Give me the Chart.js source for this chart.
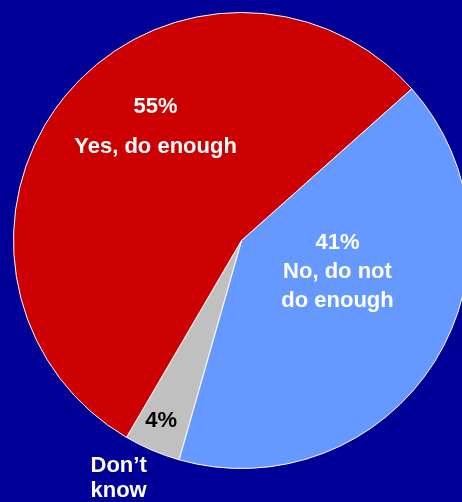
<!DOCTYPE html>
<html>
<head>
<meta charset="utf-8">
<script src="https://cdn.jsdelivr.net/npm/chart.js@4/dist/chart.umd.min.js"></script>
<style>
    html, body {
        margin: 0;
        padding: 0;
        width: 462px;
        height: 502px;
        overflow: hidden;
        background: #000099;
    }
    #chart {
        position: absolute;
        left: 0;
        top: 0;
    }
</style>
</head>
<body>
<canvas id="chart" width="482" height="502"></canvas>
<script>
// slices, clockwise from the top-right edge
const labels = ['No, do not do enough', 'Don\u2019t know', 'Yes, do enough'];
const values = [41, 4, 55];
const colors = ['#6699FF', '#C0C0C0', '#CC0000'];

// text shown for each slice (first line is the percentage)
const sliceTexts = [
    ['41%', 'No, do not', 'do enough'],
    ['4%'],
    ['55%', 'Yes, do enough']
];
const outsideTexts = [null, ['Don\u2019t', 'know'], null];

// label block centres relative to pie centre, in units of radius
const labelSpots = [
    { dx: 0.421, dy: 0.136, gap: 29 },
    { dx: -0.352, dy: 0.79, gap: 25 },
    { dx: -0.377, dy: -0.496, gap: 40 }
];
const outsideSpots = [null, { dx: -0.539, dy: 1.042, gap: 25 }, null];
const textColors = ['#FFFFFF', '#000000', '#FFFFFF'];

const sliceLabelPlugin = {
    id: 'sliceLabels',
    afterDatasetsDraw(chart) {
        const ctx = chart.ctx;
        const arcs = chart.getDatasetMeta(0).data;
        ctx.save();
        ctx.font = 'bold 22px "Liberation Sans", Arial, sans-serif';
        ctx.textAlign = 'center';
        ctx.textBaseline = 'middle';
        arcs.forEach((arc, i) => {
            const { x, y, outerRadius } = arc.getProps(['x', 'y', 'outerRadius'], true);
            const drawBlock = (lines, spot, color) => {
                const cx = x + spot.dx * outerRadius;
                const top = y + spot.dy * outerRadius - (lines.length - 1) * spot.gap / 2;
                ctx.fillStyle = color;
                lines.forEach((line, j) => ctx.fillText(line, cx, top + j * spot.gap));
            };
            drawBlock(sliceTexts[i], labelSpots[i], textColors[i]);
            if (outsideTexts[i]) {
                drawBlock(outsideTexts[i], outsideSpots[i], '#FFFFFF');
            }
        });
        ctx.restore();
    }
};

const chartCtx = document.getElementById('chart').getContext('2d');
new Chart(chartCtx, {
    type: 'pie',
    data: {
        labels: labels,
        datasets: [{
            data: values,
            backgroundColor: colors,
            borderColor: '#FFFFFF',
            borderWidth: 1
        }]
    },
    options: {
        responsive: false,
        animation: false,
        rotation: 48.3,
        layout: { padding: { left: 13, right: 12, top: 12, bottom: 33 } },
        plugins: {
            legend: { display: false },
            tooltip: { enabled: false }
        }
    },
    plugins: [sliceLabelPlugin]
});
</script>
</body>
</html>
